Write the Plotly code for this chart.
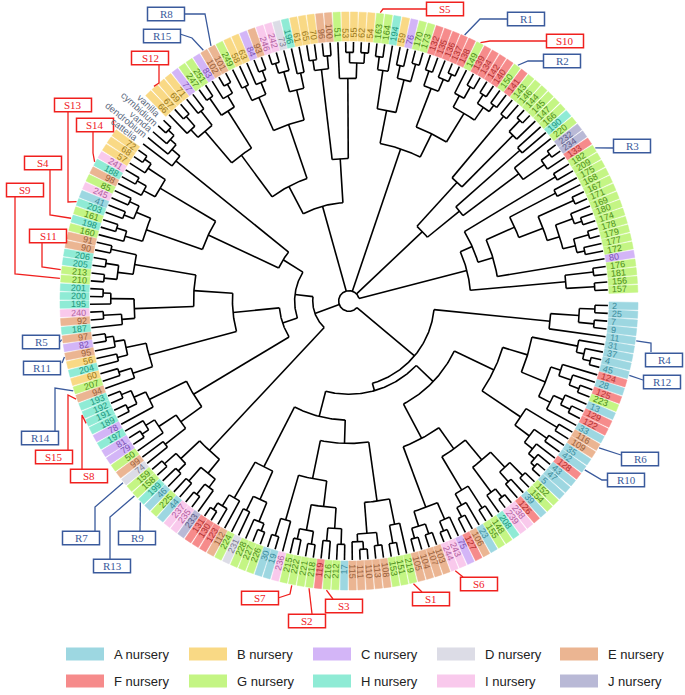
import math
import plotly.graph_objects as go

# ---------------- data ----------------
NURSERY_CODES = list("ABCDEFGHIJ")
NURSERY_NAMES = ["A nursery", "B nursery", "C nursery", "D nursery", "E nursery",
                 "F nursery", "G nursery", "H nursery", "I nursery", "J nursery"]
NURSERY_FILL = ["#9DD7E1", "#F9D985", "#D3B5F7", "#DCDCE6", "#EBB592",
                "#F68B8B", "#C4F584", "#8FEBD5", "#F9C9EC", "#B9B9D6"]
NURSERY_TEXT = ["#3F8E9E", "#9C7B22", "#7B52B5", "#7C7C92", "#9A623C",
                "#B23232", "#4E8E1C", "#23977E", "#B0629F", "#5C5C8A"]

# leaves, clockwise from 3 o'clock
LEAF_LABELS = ["2","25","7","9","11","31","37","4","45","124","28","125","223","13","129","122","33",
 "116","109","35","42","128","43","47","5","152","154","39","126","238","239","208","148","155","23",
 "106","127","75","243","244","103","107","104","105","219","151","153","108","113","110","111","115","17",
 "212","216","119","218","221","222","215","236","19","30","226","227","228","231","224","112","123","130","131",
 "233","235","237","44","225","46","199","158","159","74","99","50","79","81","197","78","189","191","192","193",
 "94","207","60","204","56","95","82","97","187","92","240","195","200","201","210","213","205","206","90","91",
 "160","198","161","203","41","245","85","98","188","241","57","68","72",
 "cattelia","dendrobium","vanda","cymbidium","vanilla",
 "66","67","69","71","77","247","251","83","102","101","249","58","63","84","93","246","242","73","196","61",
 "65","70","96","100","51","53","55","62","54","163","164","194","59","76","170","173",
 "132","135","136","137","138","149","139","134","142","140","150","141","143","146","144","145","147","166",
 "190","220","232","234","133","182","209","175","168","167","171","169","180","174","178","179","177","172",
 "80","176","181","156","157"]
LEAF_NURSERY = list(
    "AAAAAAAAA" "FAFGAFFA" "EEAAFAAA" "GGAFIIHGGA" "EFCIIEEEE" "GGGEEEEEA" "GGFGGGGIAA"
    "GGGDGEFFF" "JIIAGAHGGD" "EGCCHCHHHH" "EGBHBECEHE" "IHHHGGHHEE" "GHGHAIGEHI" "BBB"
    "-----" "BBBBCGGCEE" "GBBCEIIDHB" "BBEEGBBBBG" "GHBCGGFFFF" "FGFFFFGFGG" "GGGGHGJJFG"
    "GGGGGGGGGG" "GGCGGGG")

# tree clades (Newick, internal label = node radius as fraction of tip radius)
CL1 = "(((2,25)0.95,(7,9)0.95)0.89,11)0.78"
CL2A = "(31,(37,(4,45)0.96)0.93)0.9"
CL2B = "((124,(28,(125,223)0.95)0.91)0.86,((13,(129,122)0.95)0.91,33)0.87)0.82"
CL2C = "((116,109)0.94,((35,42)0.93,(128,(43,(47,5)0.96)0.94)0.91)0.87)0.8"
CL3A = "(((152,154)0.95,(39,126)0.93)0.88,((238,239)0.96,208)0.92)0.8"
CL3B = "((148,155)0.95,(23,(106,127)0.94)0.9)0.85"
CL3C = "((75,(243,244)0.96)0.92,((103,107)0.95,(104,105)0.95)0.91)0.85"
CL4 = "((219,(151,153)0.95)0.88,((108,113)0.95,((110,111)0.96,115)0.93)0.9)0.78"
CL5 = "((((17,212)0.94,(216,119)0.93)0.88,((218,221)0.95,(222,215)0.94)0.9)0.8,(236,(19,30)0.95)0.88)0.7"
CL6A = "((((226,227)0.95,228)0.92,(231,224)0.9)0.84,(112,(123,(130,131)0.96)0.93)0.88)0.72"
CL6B1 = "(((233,(235,237)0.95)0.9,(44,225)0.93)0.86,((46,199)0.93,(158,159)0.95)0.89)0.79"
CL6B2 = "(((74,99)0.9,(50,((79,81)0.95,197)0.92)0.88)0.8,(78,((189,191)0.95,(192,193)0.95)0.91)0.86)0.7"
CL7A = "((94,(207,60)0.93)0.88,((204,56)0.92,(95,(82,97)0.95)0.92)0.88)0.8"
CL7B = "((187,(92,240)0.95)0.88,(195,(200,201)0.95)0.92)0.83"
CL7C = "(((210,213)0.95,(205,206)0.95)0.9,(90,91)0.94)0.84"
CL7D = "((160,(198,161)0.94)0.9,((203,41)0.93,(245,85)0.93)0.89)0.83"
CL7E = "((98,(188,241)0.94)0.9,(57,(68,72)0.96)0.93)0.85"
OUTG = "(cattelia,(dendrobium,(vanda,(cymbidium,vanilla)0.96)0.93)0.9)0.86"
CL8A = "((66,(67,69)0.95)0.9,(71,77)0.93)0.86"
CL8B = "((247,251)0.95,(83,(102,101)0.96)0.92)0.87"
CL8C = "((249,58)0.92,(63,(84,93)0.95)0.91)0.86"
CL8D = "(((246,242)0.96,73)0.92,(196,61)0.9)0.84"
CL9A = "((65,70)0.94,(96,100)0.95)0.9"
CL9B = "(51,((53,55)0.96,(62,54)0.96)0.92)0.86"
CL9C = "((163,164)0.95,194)0.9"
CL9D = "((59,76)0.93,(170,173)0.95)0.88"
CL10A = "((132,135)0.94,(136,(137,138)0.96)0.93)0.88"
CL10B = "((149,(139,134)0.95)0.9,((142,140)0.95,(150,141)0.94)0.91)0.85"
CL10C = "((143,146)0.93,((144,145)0.96,147)0.9)0.62"
CL10D = "((166,190)0.88,(220,((232,234)0.96,133)0.92)0.82)0.55"
CL11A = "(182,209)0.93"
CL11B = "(((175,168)0.9,((167,171)0.95,((169,(180,174)0.95)0.92,((178,179)0.96,(177,172)0.93)0.9)0.85)0.8)0.7,80)0.58"
CL11C = "((176,181)0.95,(156,157)0.95)0.84"

CLADE_E = f"({CL1},(((({CL2A},{CL2B})0.72,{CL2C})0.62,(({CL3A},{CL3B})0.7,{CL3C})0.6)0.45,(({CL4},{CL5})0.55,{CL6A})0.46)0.36)0.33"
CLADE_X = f"({CL6B2},({CL7A},({CL7B},{CL7C})0.6)0.45)0.27"
CLADE_Y = f"(({CL7D},{CL7E})0.6,{OUTG})0.3"
CLADE_L = f"({CL6B1},({CLADE_X},{CLADE_Y})0.21)0.14"
CLADE_T = f"((({CL8A},{CL8B})0.7,({CL8C},{CL8D})0.72)0.5,({CL9A},{CL9B})0.55)0.38"
CLADE_B = f"(({CL9C},{CL9D})0.75,({CL10A},{CL10B})0.72)0.62"
CLADE_C = f"({CL10C},{CL10D})0.39"
CLADE_A = f"(({CL11A},{CL11B})0.52,{CL11C})0.47"
TREE = f"({CLADE_E},{CLADE_L},{CLADE_T},{CLADE_B},{CLADE_C},{CLADE_A})0.04;"

# callouts: name and the leaf it points to
CALLOUT_NAMES = ["S1","S2","S3","S4","S5","S6","S7","S8","S9","S10","S11","S12","S13","S14","S15",
                 "R1","R2","R3","R4","R5","R6","R7","R8","R9","R10","R11","R12","R13","R14","R15"]
CALLOUT_LEAF = ["219","218","216","198","163","244","222","191","210","149","213","67","203","188","94",
                "137","150","182","11","97","116","74","101","199","42","95","45","158","207","102"]

# ---------------- layout constants ----------------
W, H = 685, 695
CX, CY = 349, 301
R_TIP, R_IN, R_OUT = 259, 260, 289
N_SLOTS = 208
START = 1.0
STEP = 360.0 / N_SLOTS

CALLOUT_BOX = {
    "S1": (431, 599), "S2": (307, 621), "S3": (344, 606), "S4": (43, 163), "S5": (445, 9),
    "S6": (479, 584), "S7": (260, 598), "S8": (89, 476), "S9": (25, 190), "S10": (565, 41),
    "S11": (48, 236), "S12": (150, 58), "S13": (73, 105), "S14": (95, 125), "S15": (54, 457),
    "R1": (526, 19), "R2": (562, 61), "R3": (632, 146), "R4": (664, 360), "R5": (41, 342),
    "R6": (640, 459), "R7": (81, 538), "R8": (166, 14), "R9": (137, 538), "R10": (626, 480),
    "R11": (42, 368), "R12": (662, 382), "R13": (112, 566), "R14": (40, 438), "R15": (162, 36)}
CALLOUT_PATH = {
    "S1": [(422, 592)], "S2": [(312, 614)], "S3": [(333, 599)], "S4": [(50, 170), (50, 215)],
    "S5": [(427, 9), (383, 9)], "S6": [(463, 577)], "S7": [(278, 598), (290, 594)],
    "S8": [(82, 469), (82, 415)], "S9": [(15, 197), (15, 274)], "S10": [(547, 41), (490, 41)],
    "S11": [(42, 242), (42, 267)], "S12": [(159, 64), (159, 83)], "S13": [(68, 112), (68, 202)],
    "S14": [(93, 132), (93, 153)], "S15": [(68, 450), (68, 395)],
    "R1": [(507, 19), (480, 19)], "R2": [(544, 61), (528, 61)], "R3": [(613, 148)],
    "R4": [(651, 352), (651, 343)], "R5": [(60, 342)], "R6": [(621, 455)],
    "R7": [(95, 531), (95, 507)], "R8": [(185, 14), (205, 14)], "R9": [(140, 531), (140, 507)],
    "R10": [(607, 480), (602, 480)], "R11": [(62, 363)], "R12": [(643, 380)],
    "R13": [(110, 559), (110, 517)], "R14": [(55, 431), (55, 388)], "R15": [(180, 34), (192, 38)]}

# ---------------- tree parsing ----------------
def parse_newick(s):
    pos = 0

    def node():
        nonlocal pos
        if s[pos] == "(":
            pos += 1
            ch = [node()]
            while s[pos] == ",":
                pos += 1
                ch.append(node())
            pos += 1  # ')'
            j = pos
            while pos < len(s) and s[pos] not in ",);":
                pos += 1
            return {"children": ch, "h": float(s[j:pos])}
        j = pos
        while s[pos] not in ",);":
            pos += 1
        return {"name": s[j:pos], "h": 1.0}

    return node()


root = parse_newick(TREE)
leaves = []


def assign(n):
    if "children" in n:
        for c in n["children"]:
            assign(c)
        n["pos"] = sum(c["pos"] for c in n["children"]) / len(n["children"])
    else:
        n["pos"] = float(len(leaves))
        leaves.append(n["name"])


assign(root)
nursery_of = dict(zip(LEAF_LABELS, LEAF_NURSERY))
index_of = {name: i for i, name in enumerate(leaves)}


def ang(p):
    return math.radians(START + p * STEP)


def pt(r, p):
    a = ang(p)
    return CX + r * math.cos(a), CY + r * math.sin(a)


# ---------------- branches ----------------
bx, by = [], []


def add_seg(points):
    for x, y in points:
        bx.append(x)
        by.append(y)
    bx.append(None)
    by.append(None)


def draw(n):
    if "children" not in n:
        return
    r = n["h"] * R_TIP
    lo = min(c["pos"] for c in n["children"])
    hi = max(c["pos"] for c in n["children"])
    steps = max(2, int((hi - lo) * STEP / 0.5) + 1)
    add_seg([pt(r, lo + (hi - lo) * k / steps) for k in range(steps + 1)])
    for c in n["children"]:
        rc = R_TIP if "children" not in c else c["h"] * R_TIP
        add_seg([pt(r, c["pos"]), pt(rc, c["pos"])])
        draw(c)


draw(root)

fig = go.Figure()
fig.add_trace(go.Scatter(x=bx, y=by, mode="lines", line=dict(color="black", width=1.6),
                         hoverinfo="skip", showlegend=False))

# ---------------- label boxes ----------------
HW = 3.6
for code, fill in zip(NURSERY_CODES, NURSERY_FILL):
    xs, ys = [], []
    for i, name in enumerate(leaves):
        if nursery_of.get(name) != code:
            continue
        a = ang(i)
        ux, uy = math.cos(a), math.sin(a)
        tx, ty = -uy, ux
        for (r, s) in [(R_IN, -1), (R_OUT, -1), (R_OUT, 1), (R_IN, 1), (R_IN, -1)]:
            xs.append(CX + r * ux + s * HW * tx)
            ys.append(CY + r * uy + s * HW * ty)
        xs.append(None)
        ys.append(None)
    fig.add_trace(go.Scatter(x=xs, y=ys, mode="lines", fill="toself", fillcolor=fill,
                             line=dict(color=fill, width=0.5), hoverinfo="skip", showlegend=False))

annotations = []
for i, name in enumerate(leaves):
    code = nursery_of.get(name, "-")
    deg = (START + i * STEP) % 360
    tang = deg - 180 if 90 < deg < 270 else deg
    if code == "-":
        rc = R_TIP + 3 + len(name) * 2.55
        color, size = "#5D6A80", 9.5
    else:
        rc = R_IN + 3 + len(name) * 2.6
        color, size = NURSERY_TEXT[NURSERY_CODES.index(code)], 9
    x, y = pt(rc, i)
    annotations.append(dict(x=x, y=y, text=name, showarrow=False, textangle=tang,
                            xanchor="center", yanchor="middle",
                            font=dict(family="Liberation Sans, Arial", size=size, color=color)))

# ---------------- callouts ----------------
shapes = []
RED, BLUE = "#F0201E", "#3A5A9C"
for name, leaf in zip(CALLOUT_NAMES, CALLOUT_LEAF):
    col = RED if name.startswith("S") else BLUE
    cxb, cyb = CALLOUT_BOX[name]
    i = index_of[leaf]
    end = pt(R_OUT + 1, i)
    path = CALLOUT_PATH[name] + [end]
    fig.add_trace(go.Scatter(x=[p[0] for p in path], y=[p[1] for p in path], mode="lines",
                             line=dict(color=col, width=1.3), hoverinfo="skip", showlegend=False))
    shapes.append(dict(type="rect", x0=cxb - 18.5, x1=cxb + 18.5, y0=cyb - 6.8, y1=cyb + 6.8,
                       line=dict(color=col, width=1.5), fillcolor="white", layer="above"))
    annotations.append(dict(x=cxb, y=cyb, text=name, showarrow=False, xanchor="center",
                            yanchor="middle",
                            font=dict(family="Liberation Serif, Times New Roman", size=11, color=col)))

# ---------------- legend ----------------
LEG_X = [66, 189, 313, 437, 560]
LEG_Y = [654, 681]
for k, (nm, fill) in enumerate(zip(NURSERY_NAMES, NURSERY_FILL)):
    x0 = LEG_X[k % 5]
    yc = LEG_Y[k // 5]
    shapes.append(dict(type="rect", x0=x0, x1=x0 + 38, y0=yc - 6.5, y1=yc + 6.5,
                       line=dict(width=0), fillcolor=fill))
    annotations.append(dict(x=x0 + 46, y=yc, text=nm, showarrow=False, xanchor="left",
                            yanchor="middle",
                            font=dict(family="Liberation Sans, Arial", size=13, color="#222")))

fig.update_layout(
    width=W, height=H, margin=dict(l=0, r=0, t=0, b=0),
    paper_bgcolor="white", plot_bgcolor="white", showlegend=False,
    xaxis=dict(range=[0, W], visible=False, fixedrange=True),
    yaxis=dict(range=[H, 0], visible=False, fixedrange=True),
    shapes=shapes, annotations=annotations)

fig.write_html("out.html", config={"displayModeBar": False},
               post_script="document.body.style.margin='0';document.body.style.overflow='hidden';")
